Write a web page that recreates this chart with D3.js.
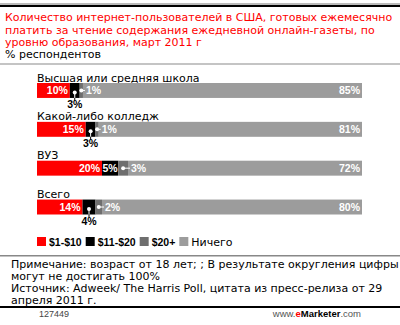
<!DOCTYPE html>
<html><head><meta charset="utf-8">
<script src="https://cdn.jsdelivr.net/npm/d3@7"></script>
<style>body{margin:0;background:#fff}svg{display:block}</style>
</head><body>
<svg id="c" width="400" height="325"></svg>
<script>
const titleLines = ["Количество интернет-пользователей в США, готовых ежемесячно","платить за чтение содержания ежедневной онлайн-газеты, по","уровню образования, март 2011 г"];
const subtitle = "% респондентов";
const categories = ["Высшая или средняя школа","Какой-либо колледж","ВУЗ","Всего"];
const seriesNames = ["$1-$10","$11-$20","$20+","Ничего"];
const s1 = [10,15,20,14];
const s2 = [3,3,5,4];
const s3 = [1,1,3,2];
const s4 = [85,81,72,80];
const colors = ["#ff0000","#000000","#6e6e6e","#9c9c9c"];
const noteLines = ["Примечание: возраст от 18 лет; ; В результате округления цифры","могут не достигать 100%","Источник: Adweek/ The Harris Poll, цитата из пресс-релиза от 29","апреля 2011 г."];
const chartId = "127449";

const svg = d3.select("#c");
const vfont = "'DejaVu Sans', Verdana, sans-serif";
const afont = "'Liberation Sans', Arial, sans-serif";

// top rule
svg.append("rect").attr("x",0).attr("y",3).attr("width",400).attr("height",2).attr("fill","#bbb");
svg.append("rect").attr("x",0).attr("y",5).attr("width",400).attr("height",2).attr("fill","#000");

svg.append("g").selectAll("text").data(titleLines).join("text")
  .attr("x",5).attr("y",(d,i)=>21+i*12.5)
  .attr("font-family",vfont).attr("font-size",11).attr("fill","#ff0000").text(d=>d);
svg.append("text").attr("x",5).attr("y",58).attr("font-family",vfont).attr("font-size",11).attr("fill","#000").text(subtitle);
svg.append("rect").attr("x",0).attr("y",63).attr("width",400).attr("height",2).attr("fill","#c4c4c4");

const y = d3.scaleBand().domain(categories).range([83,214.5]).paddingInner(0.6154).paddingOuter(0);
const rows = categories.map((c,i)=>({cat:c, vals:[s1[i],s2[i],s3[i],s4[i]]}));

rows.forEach(r=>{
  const total = d3.sum(r.vals);
  const x = d3.scaleLinear().domain([0,total]).range([37,362]);
  const y0 = y(r.cat), bh = y.bandwidth();
  const g = svg.append("g");
  g.append("text").attr("x",37).attr("y",y0-1.5).attr("font-family",vfont).attr("font-size",11).attr("fill","#000").text(r.cat);
  let acc = 0;
  const segs = r.vals.map((v,k)=>{const s={v,k,a:acc,b:acc+v};acc+=v;return s;});
  g.selectAll("rect").data(segs).join("rect")
    .attr("x",d=>x(d.a)).attr("y",y0).attr("width",d=>x(d.b)-x(d.a)).attr("height",bh)
    .attr("fill",d=>colors[d.k]);
  segs.forEach(s=>{
    const xa=x(s.a), xb=x(s.b), w=xb-xa, xc=(xa+xb)/2, lab=s.v+"%";
    const t = (xx,yy,anchor,fill)=>g.append("text").attr("x",xx).attr("y",yy).attr("text-anchor",anchor).attr("fill",fill)
      .attr("font-family",afont).attr("font-size",10.5).attr("font-weight","bold").text(lab);
    if(s.k===0||s.k===3){
      t(xb-2,y0+bh/2+4,"end","#fff");
    } else if(s.k===1){
      if(w>=14){ t(xc,y0+bh/2+4,"middle","#fff"); }
      else {
        g.append("line").attr("x1",xc).attr("x2",xc).attr("y1",y0+bh/2+2).attr("y2",y0+bh).attr("stroke","#fff");
        g.append("line").attr("x1",xc).attr("x2",xc).attr("y1",y0+bh).attr("y2",y0+bh+3).attr("stroke","#000");
        g.append("circle").attr("cx",xc).attr("cy",y0+bh/2+2).attr("r",2).attr("fill","#fff");
        t(xc,y0+bh+10,"middle","#000");
      }
    } else {
      g.append("line").attr("x1",xc).attr("x2",xb+2).attr("y1",y0+bh/2).attr("y2",y0+bh/2).attr("stroke","#fff");
      g.append("circle").attr("cx",xc).attr("cy",y0+bh/2).attr("r",2).attr("fill","#fff");
      t(xb+3,y0+bh/2+4,"start","#fff");
    }
  });
});

// legend
const lg = svg.append("g");
let lx = 37;
seriesNames.forEach((n,i)=>{
  lg.append("rect").attr("x",lx).attr("y",237).attr("width",9).attr("height",9).attr("fill",colors[i]);
  const last = i===seriesNames.length-1;
  const tx = lg.append("text").attr("x",lx+12).attr("y",245.5)
    .attr("font-family",last?vfont:afont).attr("font-size",last?11:10.5).attr("font-weight",last?"normal":"bold")
    .attr("fill","#000").text(n);
  lx = lx+12+tx.node().getComputedTextLength()+4;
});

svg.append("rect").attr("x",0).attr("y",255).attr("width",400).attr("height",1.5).attr("fill","#888");
svg.append("g").selectAll("text").data(noteLines).join("text")
  .attr("x",11).attr("y",(d,i)=>268+i*12)
  .attr("font-family",vfont).attr("font-size",11).attr("fill","#000").text(d=>d);
svg.append("rect").attr("x",0).attr("y",306).attr("width",400).attr("height",2).attr("fill","#000");
svg.append("text").attr("x",39).attr("y",317).attr("font-family",afont).attr("font-size",9).attr("fill","#444").text(chartId);
const ft = svg.append("text").attr("x",361).attr("y",317).attr("text-anchor","end").attr("font-family",afont).attr("font-size",9.5).attr("fill","#555");
ft.append("tspan").text("www.");
ft.append("tspan").attr("fill","#ff0000").attr("font-weight","bold").text("e");
ft.append("tspan").attr("fill","#000").attr("font-weight","bold").text("Marketer");
ft.append("tspan").text(".com");
</script>
</body></html>
